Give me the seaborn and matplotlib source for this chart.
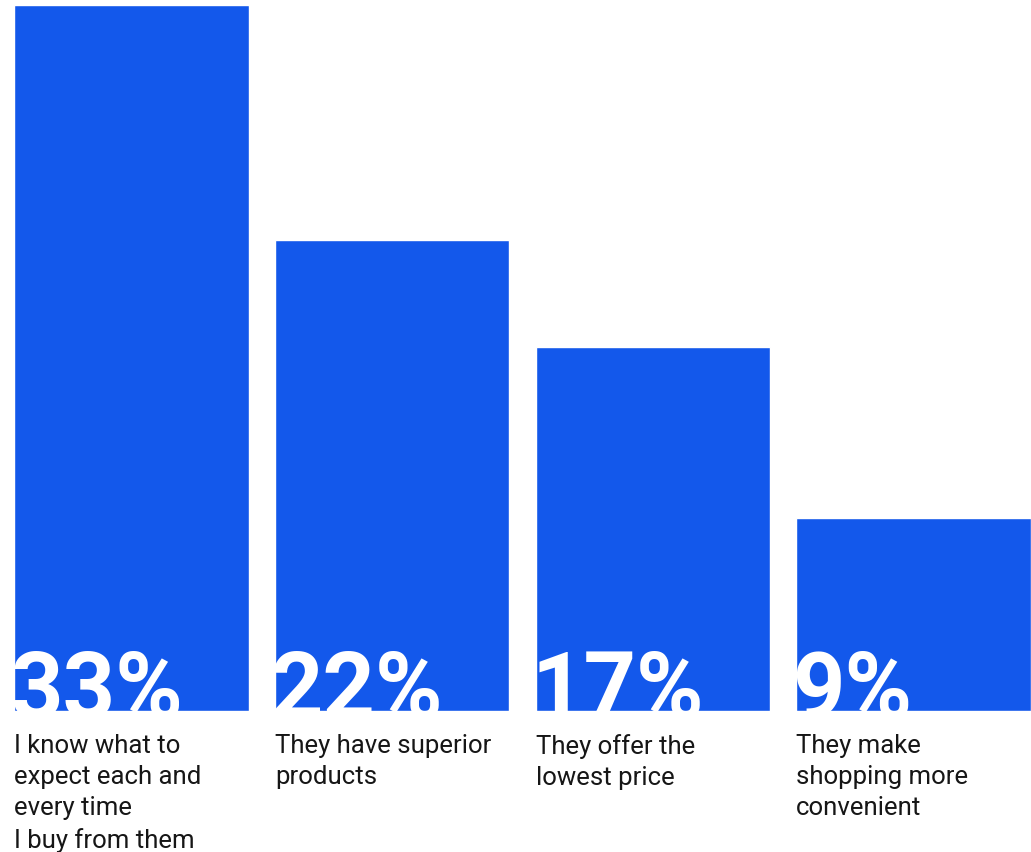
import matplotlib
matplotlib.use("Agg")
import matplotlib.pyplot as plt
import seaborn as sns
import pandas as pd

categories = [
    "I know what to\nexpect each and\nevery time\nI buy from them",
    "They have superior\nproducts",
    "They offer the\nlowest price",
    "They make\nshopping more\nconvenient",
]
values = [33, 22, 17, 9]
value_labels = ["33%", "22%", "17%", "9%"]

BLUE = "#1358EB"
W, H, DPI = 1031, 853, 100

sns.set_theme(style="white")
plt.rcParams["font.family"] = ["Roboto", "DejaVu Sans"]

df = pd.DataFrame({"reason": categories, "share": values})

fig = plt.figure(figsize=(W / DPI, H / DPI), dpi=DPI)
ax = fig.add_axes([14 / W, (H - 712) / H, (W - 14) / W, (712 - 6) / H])

sns.barplot(data=df, x="reason", y="share", color=BLUE, width=0.9,
            saturation=1, ax=ax)

ax.set_xlim(-0.45, len(values) - 0.55)
ax.set_ylim(0, max(values))
ax.set_axis_off()

# big white percentage, cut off by the bottom edge of its bar
for bar, lab in zip(ax.patches, value_labels):
    t = ax.annotate(lab, xy=(bar.get_x(), 0), xycoords="data",
                    xytext=(-3, -4), textcoords="offset points",
                    ha="left", va="baseline", color="white",
                    fontsize=66, fontweight="bold", family="Roboto")
    t.set_clip_path(bar)

# category captions below each bar
for bar, cat in zip(ax.patches, categories):
    ax.annotate(cat, xy=(bar.get_x(), 0), xycoords="data",
                xytext=(0, -16), textcoords="offset points",
                ha="left", va="top", color="#161616",
                fontsize=18.5, linespacing=1.37, annotation_clip=False)

fig.savefig("out.png", dpi=DPI, facecolor="white")
